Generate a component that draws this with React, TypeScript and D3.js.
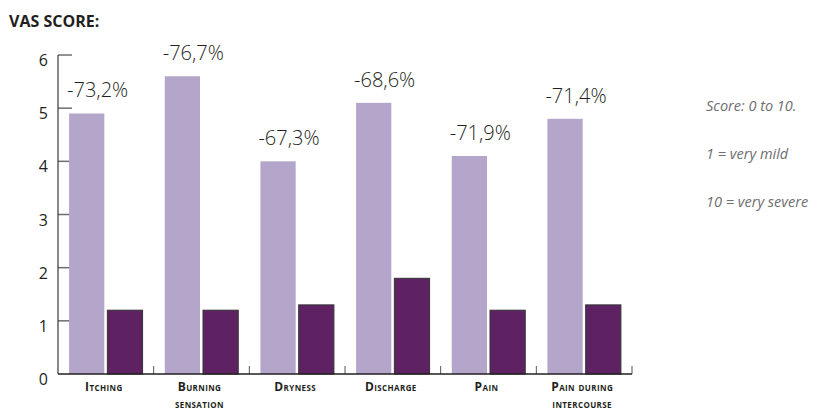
import React from "react";
import * as d3 from "d3";

const categories = [["Itching"], ["Burning", "sensation"], ["Dryness"], ["Discharge"], ["Pain"], ["Pain during", "intercourse"]];
const beforeValues = [4.9, 5.6, 4.0, 5.1, 4.1, 4.8];
const afterValues = [1.2, 1.2, 1.3, 1.8, 1.2, 1.3];
const changeLabels = ["-73,2%", "-76,7%", "-67,3%", "-68,6%", "-71,9%", "-71,4%"];
const yTicks = [0, 1, 2, 3, 4, 5, 6];
const notes = ["Score: 0 to 10.", "1 = very mild", "10 = very severe"];

const W = 821, H = 412;
const X0 = 58, X1 = 632, Y0 = 374, Y6 = 55;
const LIGHT = "#b4a5ca", DARK = "#5e2263";
const TEXT = "#231f20";
const FONT = "'Open Sans', 'DejaVu Sans', sans-serif";

export default function App() {
  const x = d3.scaleBand<number>().domain(d3.range(categories.length)).range([X0, X1]);
  const y = d3.scaleLinear().domain([0, 6]).range([Y0, Y6]);
  const inner = d3.scaleBand<string>().domain(["b", "a"]).range([0, x.bandwidth()]).paddingOuter(0.29).paddingInner(0.079);
  const bw = inner.bandwidth();
  return (
    <svg width={W} height={H} style={{ position: "absolute", left: 0, top: 0, background: "#fff" }}>
      <text x={9} y={27} fontFamily={FONT} fontWeight={700} fontSize={16} fill={TEXT}>VAS SCORE:</text>
      {yTicks.map((t) => (
        <g key={t}>
          {t > 0 && <line x1={X0} x2={X0 + 14} y1={y(t)} y2={y(t)} stroke="#6d6e70" strokeWidth={1.5} />}
          <text x={48} y={y(t) + 11} textAnchor="end" fontFamily={FONT} fontSize={16} fill={TEXT}>{t}</text>
        </g>
      ))}
      <line x1={X0} x2={X0} y1={Y0} y2={y(6)} stroke="#3a3a3a" strokeWidth={1.2} />
      {categories.map((_, i) => {
        const bx = (x(i) as number) + (inner("b") as number);
        const ax = (x(i) as number) + (inner("a") as number);
        return (
          <g key={i}>
            <rect x={bx} y={y(beforeValues[i])} width={bw} height={Y0 - y(beforeValues[i])} fill={LIGHT} />
            <rect x={ax} y={y(afterValues[i])} width={bw} height={Y0 - y(afterValues[i])} fill={DARK} stroke="#333" strokeWidth={1} />
            <text x={bx - 2} y={y(beforeValues[i]) - 16} fontFamily={FONT} fontWeight={300} fontSize={20} fill={TEXT}>{changeLabels[i]}</text>
            <line x1={(x(i) as number) + x.bandwidth()} x2={(x(i) as number) + x.bandwidth()} y1={Y0} y2={Y0 - 8} stroke="#555" strokeWidth={1} />
            {categories[i].map((ln, j) => (
              <text key={j} x={(x(i) as number) + x.bandwidth() / 2 - 2} y={391 + j * 16.5} textAnchor="middle" fontFamily={FONT} fontWeight={700} fontSize={12} fill={TEXT} style={{ fontVariant: "small-caps", letterSpacing: "0.4px" }}>{ln}</text>
            ))}
          </g>
        );
      })}
      <line x1={X0} x2={X1} y1={Y0} y2={Y0} stroke="#231f20" strokeWidth={1.5} />
      {notes.map((n, i) => (
        <text key={i} x={706} y={111 + i * 48} fontFamily={FONT} fontStyle="italic" fontSize={14.5} fill="#6d6e70">{n}</text>
      ))}
    </svg>
  );
}
